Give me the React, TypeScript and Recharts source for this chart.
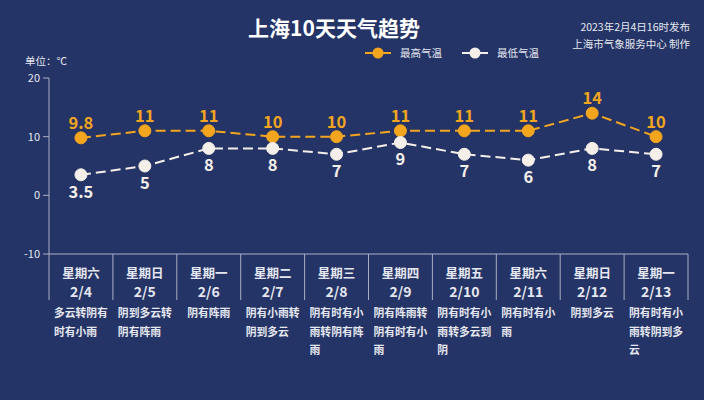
import { LineChart, Line, XAxis, YAxis, LabelList } from 'recharts';

const weekdays = ['星期六', '星期日', '星期一', '星期二', '星期三', '星期四', '星期五', '星期六', '星期日', '星期一'];
const dates = ['2/4', '2/5', '2/6', '2/7', '2/8', '2/9', '2/10', '2/11', '2/12', '2/13'];
const weather = [
  '多云转阴有时有小雨',
  '阴到多云转阴有阵雨',
  '阴有阵雨',
  '阴有小雨转阴到多云',
  '阴有时有小雨转阴有阵雨',
  '阴有阵雨转阴有时有小雨',
  '阴有时有小雨转多云到阴',
  '阴有时有小雨',
  '阴到多云',
  '阴有时有小雨转阴到多云',
];
const highTemps = [9.8, 11, 11, 10, 10, 11, 11, 11, 14, 10];
const lowTemps = [3.5, 5, 8, 8, 7, 9, 7, 6, 8, 7];
const yTicks = [-10, 0, 10, 20];

const data = dates.map((d, i) => ({ date: d, high: highTemps[i], low: lowTemps[i] }));

const W = 704;
const H = 400;
const LEFT = 49;
const RIGHT = 16;
const BAND = (W - LEFT - RIGHT) / dates.length;

const BG = '#243466';
const ORANGE = '#f3a51e';
const WHITE = '#f4efe8';
const AXIS = '#a9b0c4';
const TEXT = '#e4e7ef';
const FONT = '"Noto Sans CJK SC", "Noto Sans", sans-serif';

const wrap = (s: string, n: number) => {
  const out: string[] = [];
  for (let i = 0; i < s.length; i += n) out.push(s.slice(i, i + n));
  return out;
};

const DayTick = (props: any) => {
  const { x, y, index } = props;
  const lines = wrap(weather[index], 5);
  const fs = 10.8;
  const blockW = Math.max(...lines.map((l) => l.length)) * fs;
  return (
    <g>
      <line x1={x - BAND / 2} y1={y} x2={x - BAND / 2} y2={y + 46} stroke={AXIS} strokeWidth={1} />
      {index === dates.length - 1 && (
        <line x1={x + BAND / 2} y1={y} x2={x + BAND / 2} y2={y + 46} stroke={AXIS} strokeWidth={1} />
      )}
      <text x={x} y={y + 18} textAnchor="middle" dominantBaseline="central" fill={TEXT} fontSize={12.5} fontWeight={700} fontFamily={FONT}>
        {weekdays[index]}
      </text>
      <text x={x} y={y + 37} textAnchor="middle" dominantBaseline="central" fill={TEXT} fontSize={14} fontWeight={700} fontFamily={FONT}>
        {dates[index]}
      </text>
      {lines.map((l, i) => (
        <text key={i} x={x - blockW / 2} y={y + 58 + i * 18.5} textAnchor="start" dominantBaseline="central" fill={TEXT} fontSize={fs} fontWeight={700} fontFamily={FONT}>
          {l}
        </text>
      ))}
    </g>
  );
};

const legendItems = [
  { name: '最高气温', color: ORANGE },
  { name: '最低气温', color: WHITE },
];

export default function App() {
  return (
    <div style={{ position: 'absolute', left: 0, top: 0, width: W, height: H, background: BG, overflow: 'hidden' }}>
      <div style={{ position: 'absolute', left: 0, width: W, top: 12, textAlign: 'center', paddingRight: 36, boxSizing: 'border-box', fontFamily: FONT, fontWeight: 700, fontSize: 21, color: '#ffffff', lineHeight: '30px' }}>
        上海10天天气趋势
      </div>
      <div style={{ position: 'absolute', right: 14, top: 19, textAlign: 'right', fontFamily: FONT, fontSize: 10.5, color: TEXT, lineHeight: '16.5px' }}>
        <div>2023年2月4日16时发布</div>
        <div>上海市气象服务中心 制作</div>
      </div>
      <div style={{ position: 'absolute', left: 25, top: 53, fontFamily: FONT, fontSize: 10.5, color: TEXT, lineHeight: '16px' }}>
        单位：℃
      </div>
      <div style={{ position: 'absolute', left: 365, top: 45, display: 'flex', alignItems: 'center', fontFamily: FONT, fontSize: 10.5, color: TEXT }}>
        {legendItems.map((it) => (
          <div key={it.name} style={{ display: 'flex', alignItems: 'center', marginRight: 20 }}>
            <svg width={26} height={14} style={{ marginRight: 9 }}>
              <line x1={0} y1={7} x2={26} y2={7} stroke={it.color} strokeWidth={2} />
              <circle cx={13} cy={7} r={5.5} fill={it.color} />
            </svg>
            <span>{it.name}</span>
          </div>
        ))}
      </div>
      <LineChart width={W} height={H} data={data} margin={{ top: 78, right: RIGHT, left: 0, bottom: 0 }}>
        <XAxis
          dataKey="date"
          height={146}
          padding={{ left: BAND / 2, right: BAND / 2 }}
          axisLine={{ stroke: AXIS }}
          tickLine={false}
          tickSize={0}
          tickMargin={0}
          interval={0}
          tick={<DayTick />}
        />
        <YAxis
          width={LEFT}
          domain={[-10, 20]}
          ticks={yTicks}
          axisLine={{ stroke: AXIS }}
          tickLine={{ stroke: AXIS }}
          tickSize={6}
          tickMargin={3}
          tick={{ fill: TEXT, fontSize: 11, fontFamily: FONT }}
        />
        <Line
          dataKey="high"
          stroke={ORANGE}
          strokeWidth={2}
          strokeDasharray="10 5"
          dot={{ r: 6, fill: ORANGE, stroke: ORANGE, strokeWidth: 1, strokeDasharray: '' }}
          isAnimationActive={false}
        >
          <LabelList dataKey="high" position="top" offset={9} fill={ORANGE} fontSize={16.5} fontWeight={700} fontFamily={FONT} />
        </Line>
        <Line
          dataKey="low"
          stroke={WHITE}
          strokeWidth={2}
          strokeDasharray="10 5"
          dot={{ r: 6, fill: WHITE, stroke: WHITE, strokeWidth: 1, strokeDasharray: '' }}
          isAnimationActive={false}
        >
          <LabelList dataKey="low" position="bottom" offset={11} fill={WHITE} fontSize={16.5} fontWeight={700} fontFamily={FONT} />
        </Line>
      </LineChart>
    </div>
  );
}
